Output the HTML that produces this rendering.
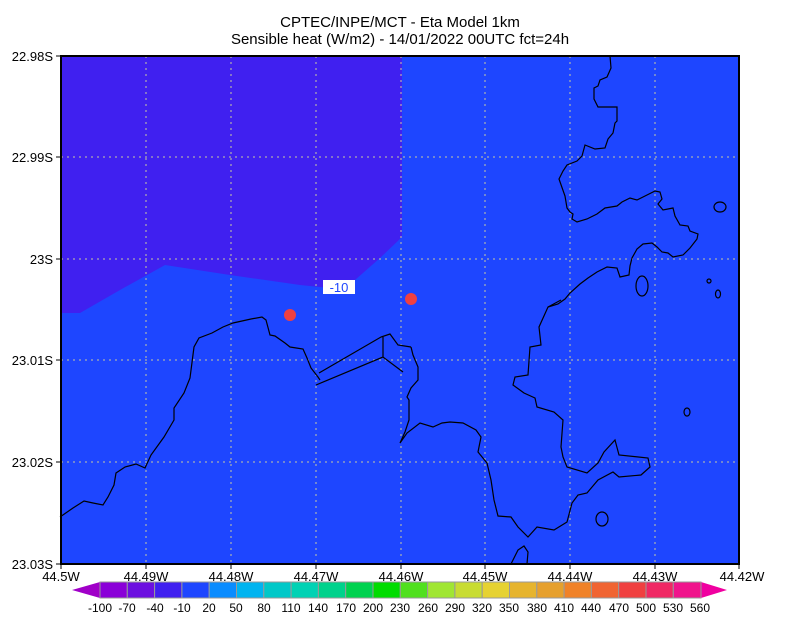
<!DOCTYPE html>
<html><head><style>
body{margin:0;background:#fff;}
svg{display:block;font-family:"Liberation Sans",sans-serif;}
</style></head><body>
<svg width="800" height="618" viewBox="0 0 800 618" xmlns="http://www.w3.org/2000/svg">
<rect width="800" height="618" fill="#fff"/>
<text x="400" y="27" font-size="15" text-anchor="middle" fill="#000">CPTEC/INPE/MCT -  Eta Model 1km</text>
<text x="400" y="44" font-size="15" text-anchor="middle" fill="#000">Sensible heat (W/m2) - 14/01/2022 00UTC fct=24h</text>
<rect x="61" y="56" width="678" height="508" fill="#1E46FF"/>
<polygon points="61,56 402,56 402,237 380,258 355,280 330,288 300,285 230,275 165,265 120,290 80,313 61,313" fill="#4020F0"/>
<g stroke="#c8c8a0" stroke-width="1" stroke-dasharray="2,4" fill="none">
<path d="M146,56V564M231,56V564M316,56V564M401,56V564M485,56V564M570,56V564M655,56V564"/>
<path d="M61,157H739M61,259H739M61,360H739M61,462H739"/>
</g>
<g stroke="#000" stroke-width="1.2" fill="none">
<polyline points="60,517 73,508 84,501 93,503 103,505 108,497 114,485 116,473 125,467 136,464 145,468 151,455 164,437 174,420 174,408 184,393 190,378 194,347 199,338 212,333 223,327 233,323 251,319 262,317 266,320 270,335 275,336 285,343 290,347 303,349 307,358 311,368 318,377 320,380"/>
<polyline points="316,385 383,357 403,372"/>
<polyline points="319,373 381,337 390,334 398,345 411,347"/>
<polyline points="383,337 383,357"/>
<polyline points="411,347 413,355 418,367 418,380 411,388 407,397 409,400 409,420 405,432 400,443 407,433 420,423 433,427 442,423 450,422 463,423 476,430 481,437 478,452 487,463 491,480 494,500 498,516 511,517 518,527 528,537 537,527 554,530 567,522 572,503 578,495 587,493 598,480 613,472 619,477 641,475 650,467 648,458 619,455 615,440 604,452 598,463 587,473 567,467 563,457 561,447 563,420 554,412 537,407 535,398 524,393 513,385 515,377 528,375 530,347 541,345 539,327 548,307 561,300"/>
<polyline points="610,56 611,68 607,77 600,80 598,86 594,88 594,99 598,107 617,107 617,121 615,123 613,133 608,139 605,148 595,149 585,145 582,156 577,161 567,165 563,171 559,179 565,196 567,208 570,212 573,214 572,219 577,222 587,219 597,214 605,208 617,206 622,202 630,198 637,200 647,195 655,191 660,192 662,199 658,204 663,210 673,208 675,216 680,225 688,226 690,231 698,234 697,239 690,248 683,255 673,257 668,253 662,252 657,247 652,243 643,244 637,249 632,258 630,266 629,275 620,277 617,268 607,267 597,272 588,278 580,284 570,293 565,299 558,304 548,307"/>
<ellipse cx="720" cy="207" rx="6" ry="5"/>
<ellipse cx="642" cy="286" rx="6" ry="10"/>
<ellipse cx="709" cy="281" rx="2" ry="2"/>
<ellipse cx="718" cy="294" rx="2.5" ry="4"/>
<ellipse cx="687" cy="412" rx="3" ry="4"/>
<ellipse cx="602" cy="519" rx="6" ry="7"/>
<polyline points="511,564 518,550 524,546 528,552 527,564"/>
</g>
<circle cx="290" cy="315" r="6" fill="#F04040"/>
<circle cx="411" cy="299" r="6" fill="#F04040"/>
<rect x="323" y="280" width="32" height="14" fill="#fff"/>
<text x="339" y="292" font-size="13" text-anchor="middle" fill="#1E46FF">-10</text>
<rect x="61" y="56" width="678" height="508" fill="none" stroke="#000" stroke-width="2"/>
<g stroke="#000" stroke-width="1">
<path d="M56,56H61M56,157H61M56,259H61M56,360H61M56,462H61M56,564H61"/>
<path d="M61,564V569M146,564V569M231,564V569M316,564V569M401,564V569M485,564V569M570,564V569M655,564V569M739,564V569"/>
</g>
<g font-size="13" fill="#000" text-anchor="end">
<text x="53" y="61">22.98S</text><text x="53" y="162">22.99S</text><text x="53" y="264">23S</text>
<text x="53" y="365">23.01S</text><text x="53" y="467">23.02S</text><text x="53" y="569">23.03S</text>
</g>
<g font-size="13" fill="#000" text-anchor="middle">
<text x="61" y="581">44.5W</text><text x="146" y="581">44.49W</text><text x="231" y="581">44.48W</text>
<text x="316" y="581">44.47W</text><text x="401" y="581">44.46W</text><text x="485" y="581">44.45W</text>
<text x="570" y="581">44.44W</text><text x="655" y="581">44.43W</text><text x="742" y="581">44.42W</text>
</g>
<polygon points="72,590 100,582 100,598" fill="#A000C8"/>
<polygon points="727,590 701,582 701,598" fill="#F000A0"/>
<g stroke="#999" stroke-width="1">
<rect x="100" y="582" width="27.3" height="16" fill="#8A00D8"/>
<rect x="127.3" y="582" width="27.3" height="16" fill="#6C10E0"/>
<rect x="154.6" y="582" width="27.3" height="16" fill="#4020F0"/>
<rect x="181.9" y="582" width="27.3" height="16" fill="#1E46FF"/>
<rect x="209.2" y="582" width="27.3" height="16" fill="#0A8CFF"/>
<rect x="236.5" y="582" width="27.3" height="16" fill="#00B4F0"/>
<rect x="263.8" y="582" width="27.3" height="16" fill="#00C8C8"/>
<rect x="291.1" y="582" width="27.3" height="16" fill="#00D2B4"/>
<rect x="318.4" y="582" width="27.3" height="16" fill="#00D28C"/>
<rect x="345.7" y="582" width="27.3" height="16" fill="#00D250"/>
<rect x="373" y="582" width="27.3" height="16" fill="#00DC00"/>
<rect x="400.3" y="582" width="27.3" height="16" fill="#50E01E"/>
<rect x="427.6" y="582" width="27.3" height="16" fill="#A0E632"/>
<rect x="454.9" y="582" width="27.3" height="16" fill="#C8DC32"/>
<rect x="482.2" y="582" width="27.3" height="16" fill="#E6D232"/>
<rect x="509.5" y="582" width="27.3" height="16" fill="#E6B42D"/>
<rect x="536.8" y="582" width="27.3" height="16" fill="#E6A02D"/>
<rect x="564.1" y="582" width="27.3" height="16" fill="#F08228"/>
<rect x="591.4" y="582" width="27.3" height="16" fill="#F06432"/>
<rect x="618.7" y="582" width="27.3" height="16" fill="#F04040"/>
<rect x="646" y="582" width="27.3" height="16" fill="#F02864"/>
<rect x="673.3" y="582" width="27.7" height="16" fill="#F0148C"/>
</g>
<g font-size="12" fill="#000" text-anchor="middle">
<text x="100" y="612">-100</text><text x="127" y="612">-70</text><text x="155" y="612">-40</text><text x="182" y="612">-10</text>
<text x="209" y="612">20</text><text x="236" y="612">50</text><text x="264" y="612">80</text><text x="291" y="612">110</text>
<text x="318" y="612">140</text><text x="346" y="612">170</text><text x="373" y="612">200</text><text x="400" y="612">230</text>
<text x="428" y="612">260</text><text x="455" y="612">290</text><text x="482" y="612">320</text><text x="509" y="612">350</text>
<text x="537" y="612">380</text><text x="564" y="612">410</text><text x="591" y="612">440</text><text x="619" y="612">470</text>
<text x="646" y="612">500</text><text x="673" y="612">530</text><text x="700" y="612">560</text>
</g>
</svg>
</body></html>
